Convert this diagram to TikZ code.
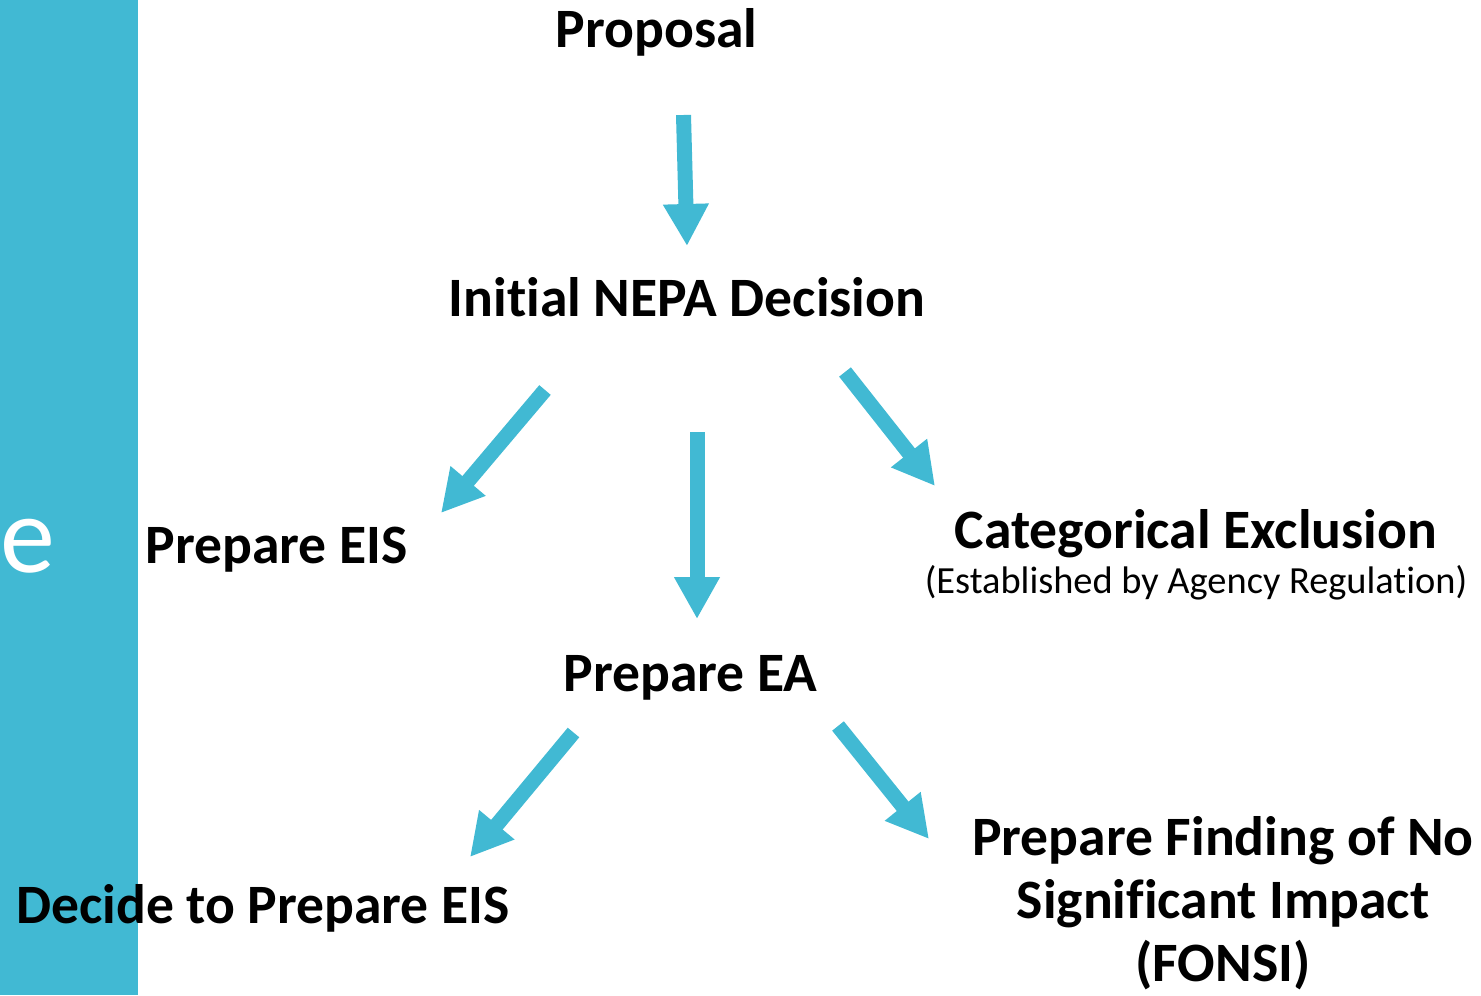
\documentclass[tikz,border=0pt]{standalone}
\usepackage{fontspec}
\setmainfont{Carlito}[RawFeature={-liga}]
\usetikzlibrary{arrows.meta, positioning}
\definecolor{nepablue}{HTML}{41B9D3}

\begin{document}
\begin{tikzpicture}[x=0.5pt,y=-0.5pt,
		step box/.style={font=\fontsize{27.8}{31.5}\selectfont\bfseries, inner sep=0pt, anchor=base, align=center},
		flow/.style={draw=nepablue, line width=7.5pt, -{Triangle[width=21.5pt,length=21pt,fill=nepablue]}}]
	\useasboundingbox (0,0) rectangle (1481,995);
	\fill[nepablue] (0,0) rectangle (138,995);
	\node[text=white, font=\fontsize{55}{55}\selectfont, inner sep=0pt, anchor=base] (e) at (28,572) {e};

	% steps
	\node[step box] (prop) at (656.5,48) {Proposal};
	\node[step box] (init) at (687,316) {Initial NEPA Decision};
	\node[step box] (eis) at (276.5,563) {Prepare EIS};
	\node[step box] (cex) at (1196,548) {Categorical Exclusion};
	\node[font=\fontsize{19.2}{22}\selectfont, inner sep=0pt, below=22.5pt of cex.base, anchor=base] (reg) {(Established by Agency Regulation)};
	\node[step box] (ea) at (690.5,691) {Prepare EA};
	\node[step box] (decide) at (263,923) {Decide to Prepare EIS};
	% base of a multi-line node sits on its last line
	\node[step box] (fonsi) at (1223,981) {Prepare Finding of No\\Significant Impact\\(FONSI)};

	% arrow ends
	\coordinate (p1) at (683.5,115);  \coordinate (i1) at (687,246);
	\coordinate (i2) at (545,390);    \coordinate (s2) at (441,513);
	\coordinate (i3) at (697,432);    \coordinate (a3) at (697,619);
	\coordinate (i4) at (845,372);    \coordinate (c4) at (935,486);
	\coordinate (a5) at (573.5,732.5);\coordinate (d5) at (470,857);
	\coordinate (a6) at (838,726);    \coordinate (f6) at (929,839);

	\draw[flow] (p1) -- (i1);
	\draw[flow] (i2) -- (s2);
	\draw[flow] (i3) -- (a3);
	\draw[flow] (i4) -- (c4);
	\draw[flow] (a5) -- (d5);
	\draw[flow] (a6) -- (f6);
\end{tikzpicture}
\end{document}
